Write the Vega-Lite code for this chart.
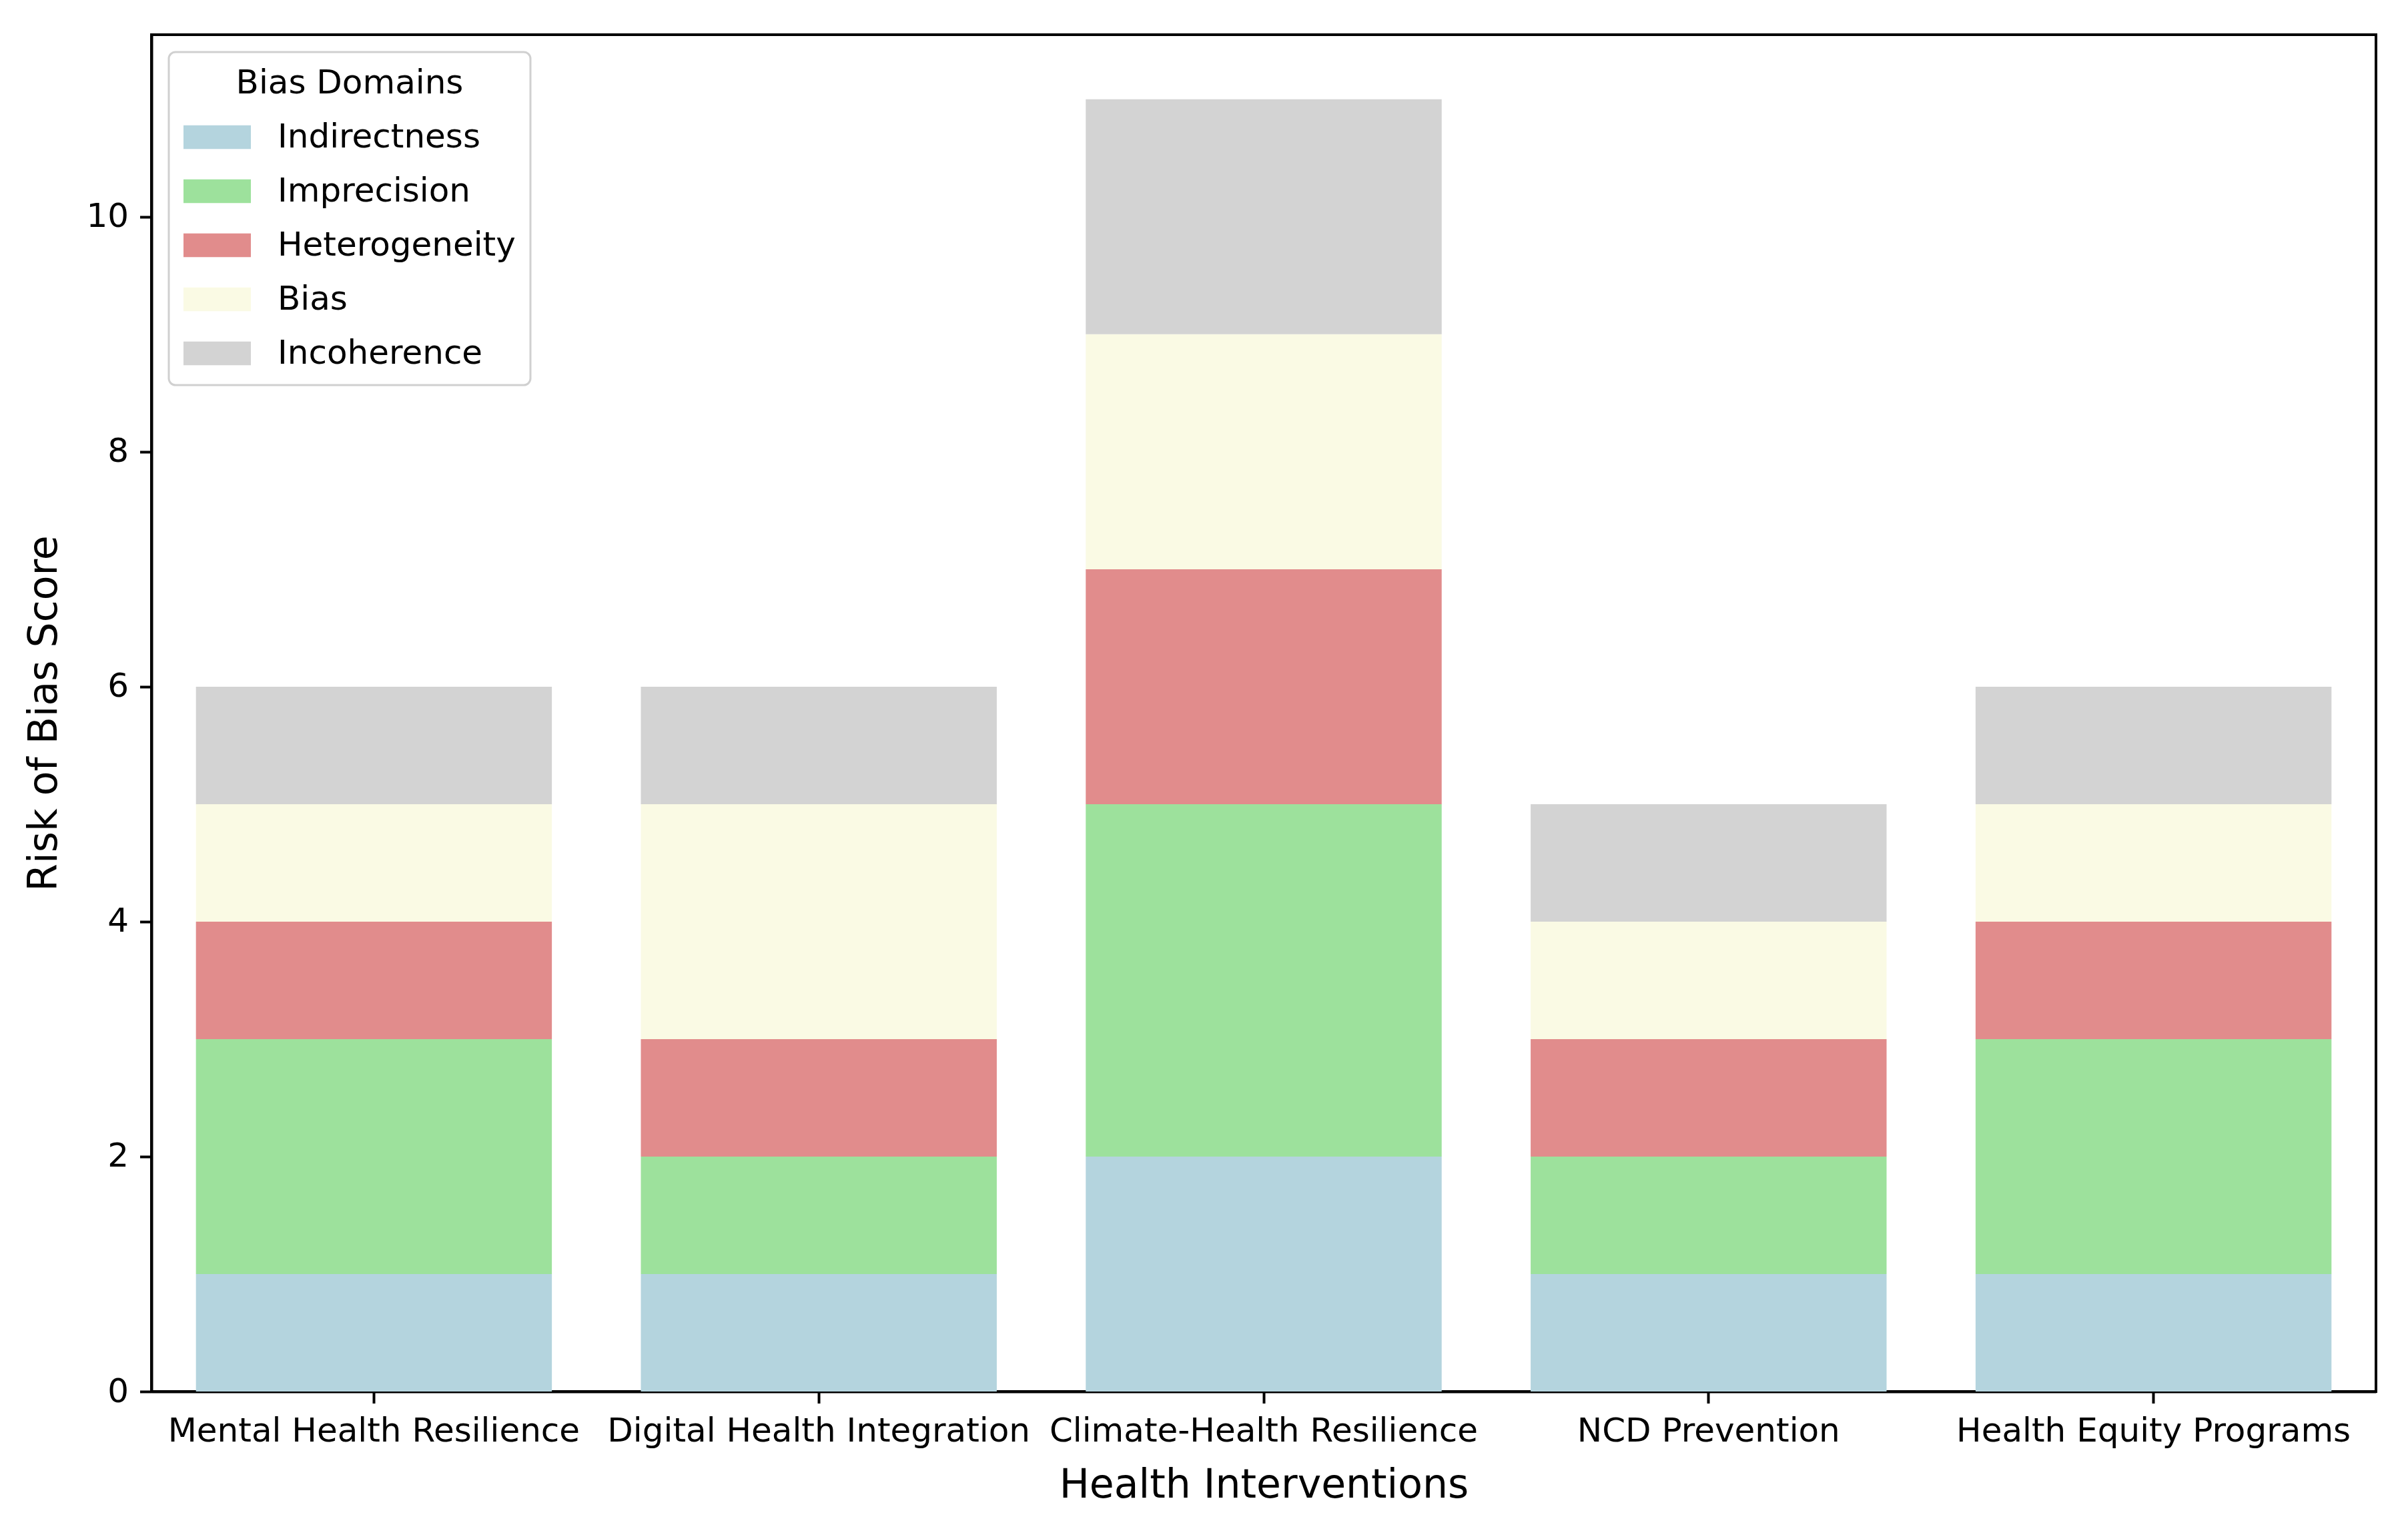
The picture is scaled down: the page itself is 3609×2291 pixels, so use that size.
{
  "$schema": "https://vega.github.io/schema/vega-lite/v6.json",
  "autosize": {"type": "none"},
  "width": 3334,
  "height": 2033,
  "padding": {"left": 227, "top": 52, "right": 48, "bottom": 206},
  "background": "white",
  "data": {
    "values": [
      {"Intervention": "Mental Health Resilience", "Domain": "Indirectness", "DomainIndex": 1, "Score": 1},
      {"Intervention": "Mental Health Resilience", "Domain": "Imprecision", "DomainIndex": 2, "Score": 2},
      {"Intervention": "Mental Health Resilience", "Domain": "Heterogeneity", "DomainIndex": 3, "Score": 1},
      {"Intervention": "Mental Health Resilience", "Domain": "Bias", "DomainIndex": 4, "Score": 1},
      {"Intervention": "Mental Health Resilience", "Domain": "Incoherence", "DomainIndex": 5, "Score": 1},
      {"Intervention": "Digital Health Integration", "Domain": "Indirectness", "DomainIndex": 1, "Score": 1},
      {"Intervention": "Digital Health Integration", "Domain": "Imprecision", "DomainIndex": 2, "Score": 1},
      {"Intervention": "Digital Health Integration", "Domain": "Heterogeneity", "DomainIndex": 3, "Score": 1},
      {"Intervention": "Digital Health Integration", "Domain": "Bias", "DomainIndex": 4, "Score": 2},
      {"Intervention": "Digital Health Integration", "Domain": "Incoherence", "DomainIndex": 5, "Score": 1},
      {"Intervention": "Climate-Health Resilience", "Domain": "Indirectness", "DomainIndex": 1, "Score": 2},
      {"Intervention": "Climate-Health Resilience", "Domain": "Imprecision", "DomainIndex": 2, "Score": 3},
      {"Intervention": "Climate-Health Resilience", "Domain": "Heterogeneity", "DomainIndex": 3, "Score": 2},
      {"Intervention": "Climate-Health Resilience", "Domain": "Bias", "DomainIndex": 4, "Score": 2},
      {"Intervention": "Climate-Health Resilience", "Domain": "Incoherence", "DomainIndex": 5, "Score": 2},
      {"Intervention": "NCD Prevention", "Domain": "Indirectness", "DomainIndex": 1, "Score": 1},
      {"Intervention": "NCD Prevention", "Domain": "Imprecision", "DomainIndex": 2, "Score": 1},
      {"Intervention": "NCD Prevention", "Domain": "Heterogeneity", "DomainIndex": 3, "Score": 1},
      {"Intervention": "NCD Prevention", "Domain": "Bias", "DomainIndex": 4, "Score": 1},
      {"Intervention": "NCD Prevention", "Domain": "Incoherence", "DomainIndex": 5, "Score": 1},
      {"Intervention": "Health Equity Programs", "Domain": "Indirectness", "DomainIndex": 1, "Score": 1},
      {"Intervention": "Health Equity Programs", "Domain": "Imprecision", "DomainIndex": 2, "Score": 2},
      {"Intervention": "Health Equity Programs", "Domain": "Heterogeneity", "DomainIndex": 3, "Score": 1},
      {"Intervention": "Health Equity Programs", "Domain": "Bias", "DomainIndex": 4, "Score": 1},
      {"Intervention": "Health Equity Programs", "Domain": "Incoherence", "DomainIndex": 5, "Score": 1}
    ]
  },
  "mark": {"type": "bar", "strokeWidth": 0},
  "encoding": {
    "x": {
      "field": "Intervention",
      "type": "nominal",
      "sort": null,
      "scale": {"paddingInner": 0.2, "paddingOuter": 0.1},
      "axis": {"title": "Health Interventions", "labelAngle": 0}
    },
    "y": {
      "field": "Score",
      "type": "quantitative",
      "stack": "zero",
      "scale": {"domain": [0, 11.55], "nice": false, "zero": true},
      "axis": {"title": "Risk of Bias Score", "values": [0, 2, 4, 6, 8, 10]}
    },
    "order": {"field": "DomainIndex", "type": "quantitative", "sort": "ascending"},
    "color": {
      "field": "Domain",
      "type": "nominal",
      "scale": {
        "domain": ["Indirectness", "Imprecision", "Heterogeneity", "Bias", "Incoherence"],
        "range": ["#b4d4de", "#9de19c", "#e18c8c", "#fafae4", "#d3d3d3"]
      },
      "legend": {"title": "Bias Domains"}
    }
  },
  "config": {
    "font": "DejaVu Sans",
    "view": {"stroke": "black", "strokeWidth": 4},
    "axis": {
      "grid": false,
      "domainColor": "black",
      "domainWidth": 4,
      "tickColor": "black",
      "tickWidth": 4,
      "tickSize": 17.5,
      "labelFont": "DejaVu Sans",
      "labelFontSize": 50,
      "labelColor": "black",
      "labelPadding": 17,
      "labelLimit": 1000,
      "titleFont": "DejaVu Sans",
      "titleFontSize": 60,
      "titleFontWeight": "normal",
      "titleColor": "black"
    },
    "axisX": {"titlePadding": 27},
    "axisY": {"titlePadding": 31},
    "legend": {
      "orient": "top-left",
      "offset": 26,
      "padding": 22,
      "fillColor": "rgba(255,255,255,0.8)",
      "strokeColor": "#d0d0d0",
      "strokeWidth": 3,
      "cornerRadius": 10,
      "titleFont": "DejaVu Sans",
      "titleFontSize": 50,
      "titleFontWeight": "normal",
      "titleColor": "black",
      "titleAnchor": "middle",
      "titlePadding": 5,
      "titleLimit": 1000,
      "labelFont": "DejaVu Sans",
      "labelFontSize": 50,
      "labelColor": "black",
      "labelOffset": 40,
      "labelLimit": 1000,
      "symbolType": "M-1,-0.35L1,-0.35L1,0.35L-1,0.35Z",
      "symbolSize": 10201,
      "symbolStrokeWidth": 0,
      "symbolOpacity": 1,
      "rowPadding": 5
    }
  }
}
